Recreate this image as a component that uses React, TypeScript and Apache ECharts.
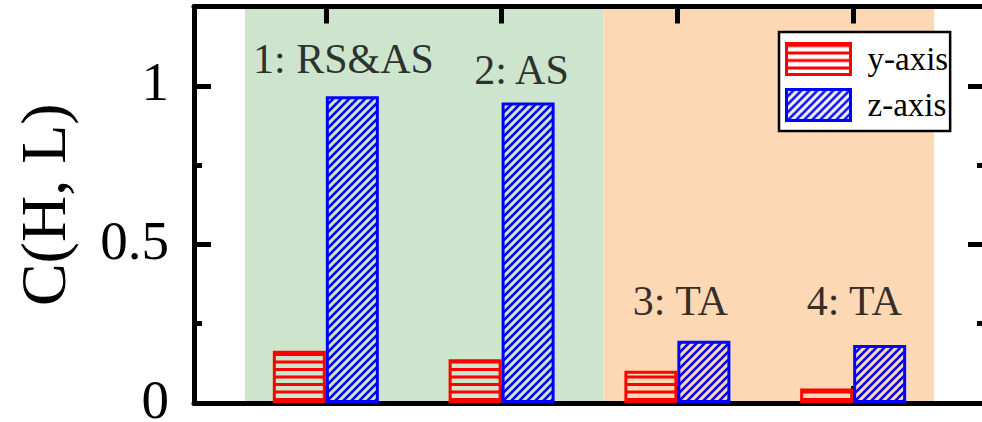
import React, { useEffect, useRef } from "react";
import * as echarts from "echarts";

const groupPositions = [1, 2, 3, 4];
const yAxisValues = [0.165, 0.138, 0.102, 0.046];
const zAxisValues = [0.967, 0.947, 0.196, 0.183];
const seriesNames = ["y-axis", "z-axis"];
const yTickLabels = [0, 0.5, 1];
const yMinorTicks = [0.25, 0.75];
const annotationText = ["1: RS&AS", "2: AS", "3: TA", "4: TA"];
const annotationX = [1.1, 2.113, 3.017, 4.006];
const annotationY = [1.085, 1.05, 0.322, 0.322];
const greenRegion = [0.54, 2.58];
const orangeRegion = [2.58, 4.46];

const FONT = "Liberation Serif";

function svgUrl(svg: string) {
  return "data:image/svg+xml;charset=utf-8," + encodeURIComponent(svg);
}

const redPattern = {
  image: svgUrl(
    "<svg xmlns='http://www.w3.org/2000/svg' width='15' height='15'>" +
      "<rect x='0' y='0.5' width='15' height='3' fill='#ff0000'/>" +
      "<rect x='0' y='8' width='15' height='3' fill='#ff0000'/></svg>"
  ),
  imageWidth: 15,
  imageHeight: 15,
  repeat: "repeat",
};

function diagLines() {
  let s = "";
  for (const c of [0, 8, 16]) {
    s += `<line x1='${-3}' y1='${c + 3}' x2='${c + 3}' y2='${-3}' stroke='#0000ff' stroke-width='2.6'/>`;
  }
  return s;
}

const bluePattern = {
  image: svgUrl(
    "<svg xmlns='http://www.w3.org/2000/svg' width='8' height='8'>" + diagLines() + "</svg>"
  ),
  imageWidth: 8,
  imageHeight: 8,
  repeat: "repeat",
};

export default function App() {
  const ref = useRef<HTMLDivElement>(null);
  useEffect(() => {
    if (!ref.current) return;
    const chart = echarts.init(ref.current, null, { renderer: "svg" });
    const lineStyle = { color: "#000", width: 5 };
    const majorTick = { show: true, inside: true, length: 17, lineStyle: { color: "#000", width: 5 } };
    const minorTick = { show: true, inside: true, length: 8, lineStyle: { color: "#000", width: 5 } };
    const baseX = {
      type: "value",
      min: 0.25,
      max: 4.75,
      z: 1,
      axisLine: { show: true, onZero: false, lineStyle },
      axisTick: { ...majorTick, customValues: groupPositions },
      axisLabel: { show: false },
      splitLine: { show: false },
    };
    const baseY = {
      type: "value",
      min: 0,
      max: 1.25,
      z: 1,
      splitLine: { show: false },
    };
    chart.setOption({
      animation: false,
      backgroundColor: "#ffffff",
      grid: {
        left: 194,
        right: -3,
        top: 6.5,
        bottom: 19,
        containLabel: false,
        outerBoundsMode: "none",
      },
      legend: {
        orient: "vertical",
        left: 779,
        top: 32,
        padding: [10, 2, 9, 6],
        itemGap: 12,
        itemWidth: 64,
        itemHeight: 31,
        icon: "rect",
        backgroundColor: "#ffffff",
        borderColor: "#000",
        borderWidth: 2.5,
        borderRadius: 0,
        itemStyle: { borderWidth: 3 },
        textStyle: { fontFamily: FONT, fontSize: 33, color: "#000", padding: [0, 0, 0, 12] },
        data: seriesNames,
      },
      xAxis: [
        { ...baseX, position: "bottom" },
        { ...baseX, position: "top" },
      ],
      yAxis: [
        {
          ...baseY,
          position: "left",
          axisLine: { show: true, lineStyle },
          axisTick: { ...majorTick, customValues: yTickLabels },
          axisLabel: {
            show: true,
            customValues: yTickLabels,
            fontFamily: FONT,
            fontSize: 55,
            lineHeight: 8,
            verticalAlign: "bottom",
            color: "#000",
            margin: 25,
            formatter: (v: number) => String(v),
          },
          name: "C(H, L)",
          nameLocation: "middle",
          nameRotate: 90,
          nameGap: 119,
          nameTextStyle: { fontFamily: FONT, fontSize: 64, color: "#000" },
        },
        {
          ...baseY,
          position: "left",
          axisLine: { show: false },
          axisTick: { ...minorTick, customValues: yMinorTicks },
          axisLabel: { show: false },
        },
        {
          ...baseY,
          position: "right",
          axisLine: { show: true, lineStyle },
          axisTick: { ...majorTick, customValues: yTickLabels },
          axisLabel: { show: false },
        },
        {
          ...baseY,
          position: "right",
          axisLine: { show: false },
          axisTick: { ...minorTick, customValues: yMinorTicks },
          axisLabel: { show: false },
        },
      ],
      series: [
        {
          type: "line",
          data: [],
          z: 0,
          silent: true,
          markArea: {
            silent: true,
            label: { show: false },
            data: [
              [
                { xAxis: greenRegion[0], itemStyle: { color: "#cce5cc", opacity: 1 } },
                { xAxis: greenRegion[1] },
              ],
              [
                { xAxis: orangeRegion[0], itemStyle: { color: "#fdd8b4", opacity: 1 } },
                { xAxis: orangeRegion[1] },
              ],
            ],
          },
        },
        {
          name: seriesNames[0],
          type: "bar",
          z: 2,
          barWidth: 53,
          barGap: "0%",
          itemStyle: { color: redPattern, borderColor: "#ff0000", borderWidth: 3 },
          data: groupPositions.map((x, i) => [x, yAxisValues[i]]),
        },
        {
          name: seriesNames[1],
          type: "bar",
          z: 2,
          barWidth: 53,
          barGap: "0%",
          itemStyle: { color: bluePattern, borderColor: "#0000ff", borderWidth: 3 },
          data: groupPositions.map((x, i) => [x, zAxisValues[i]]),
        },
        {
          type: "scatter",
          z: 3,
          silent: true,
          symbolSize: 0,
          data: annotationText.map((t, i) => ({ name: t, value: [annotationX[i], annotationY[i]] })),
          label: {
            show: true,
            position: "inside",
            formatter: (p: any) => p.name,
            fontFamily: FONT,
            fontSize: 42,
            color: "#000",
            align: "center",
            verticalAlign: "middle",
          },
        },
      ],
    });
    return () => chart.dispose();
  }, []);
  return (
    <div
      ref={ref}
      style={{ position: "fixed", left: 0, top: 0, width: 982, height: 422, background: "#fff" }}
    />
  );
}
